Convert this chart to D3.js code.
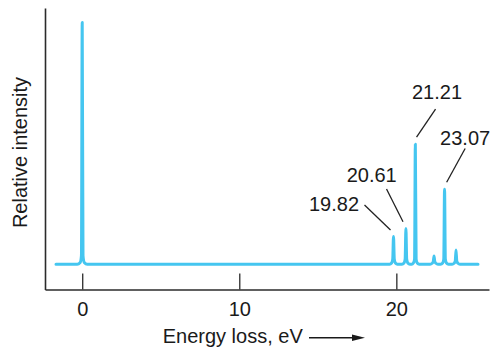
<!DOCTYPE html>
<html><head><meta charset="utf-8">
<script src="https://cdn.jsdelivr.net/npm/d3@7/dist/d3.min.js"></script>
<style>body{margin:0;background:#fff}svg{display:block;font-family:"Liberation Sans",Arial,sans-serif}</style>
</head><body>
<svg id="chart" width="491" height="348"></svg>
<script>
// ---- data ----
const traceEnergy = [
  -1.67, -0.32, -0.13, -0.05, 0, 0.05, 0.13, 0.32,
  19.57, 19.70, 19.77, 19.82, 19.87, 19.94, 20.07,
  20.36, 20.49, 20.56, 20.61, 20.66, 20.73, 20.86,
  20.98, 21.09, 21.16, 21.21, 21.26, 21.33, 21.46,
  22.15, 22.28, 22.35, 22.40, 22.45, 22.52, 22.65,
  22.82, 22.95, 23.02, 23.07, 23.12, 23.19, 23.32,
  23.55, 23.68, 23.75, 23.80, 23.85, 23.92, 24.05,
  25.2
];
const traceIntensity = [
  0, 0, 0.7, 3.5, 99.3, 3.5, 0.7, 0,
  0, 0.5, 2, 11.4, 2, 0.5, 0,
  0, 0.5, 2, 14.7, 2, 0.5, 0,
  0, 0.5, 2, 49.3, 2, 0.5, 0,
  0, 0.4, 1, 3.4, 1, 0.4, 0,
  0, 0.5, 2, 30.8, 2, 0.5, 0,
  0, 0.4, 1.2, 5.8, 1.2, 0.4, 0,
  0
];
const peakLabels = ["19.82", "20.61", "21.21", "23.07"];
const peakEnergies = [19.82, 20.61, 21.21, 23.07];
const peakHeights = [11.4, 14.7, 49.3, 30.8];
const xTicks = [0, 10, 20];
const xTitle = "Energy loss, eV";
const yTitle = "Relative intensity";

// ---- layout ----
const svg = d3.select("#chart");
const x = d3.scaleLinear().domain([-2.37, 25.9]).range([45, 489]);
const y = d3.scaleLinear().domain([-10.4, 105.3]).range([289.5, 8]);
const axisColor = "#2b2b2b";
const traceColor = "#45c6f0";

// x axis
const gx = svg.append("g").attr("transform", `translate(0,${y.range()[0]})`)
  .call(d3.axisBottom(x).tickValues(xTicks).tickFormat(d3.format("d"))
    .tickSizeInner(-16).tickSizeOuter(0).tickPadding(12));
gx.select(".domain").attr("stroke", axisColor).attr("stroke-width", 1.6);
gx.selectAll(".tick line").attr("stroke", axisColor).attr("stroke-width", 1.3);
gx.selectAll(".tick text").attr("font-size", 20).attr("fill", "#1a1a1a")
  .attr("font-family", "Liberation Sans, Arial, sans-serif");

// y axis (line only)
const gy = svg.append("g").attr("transform", `translate(${x.range()[0]},0)`)
  .call(d3.axisLeft(y).tickValues([]).tickSizeOuter(0));
gy.select(".domain").attr("stroke", axisColor).attr("stroke-width", 1.6);

// trace
const pts = traceEnergy.map((e, i) => [e, traceIntensity[i]]);
svg.append("path").datum(pts)
  .attr("fill", "none").attr("stroke", traceColor).attr("stroke-width", 3)
  .attr("stroke-linejoin", "round").attr("stroke-linecap", "round")
  .attr("d", d3.line().x(d => x(d[0])).y(d => y(d[1])).curve(d3.curveMonotoneX));

// annotations (pixel offsets from each labelled peak top)
const annot = [
  {tx: -59.5, ty: -25.8, l: [-29, -31.5, -3, -6.5]},
  {tx: -34.2, ty: -46.7, l: [-19.4, -39.4, -2.9, -6.7]},
  {tx: 21.7, ty: -45.2, l: [20.2, -35.2, 1.2, -7.2]},
  {tx: 20.6, ty: -44.3, l: [20.6, -40.8, 2.1, -7]}
];
peakLabels.forEach((lab, i) => {
  const px = x(peakEnergies[i]), py = y(peakHeights[i]);
  const a = annot[i];
  svg.append("line")
    .attr("x1", px + a.l[0]).attr("y1", py + a.l[1])
    .attr("x2", px + a.l[2]).attr("y2", py + a.l[3])
    .attr("stroke", "#222").attr("stroke-width", 1.3);
  svg.append("text").attr("x", px + a.tx).attr("y", py + a.ty)
    .attr("text-anchor", "middle").attr("font-size", 20).attr("fill", "#1a1a1a")
    .text(lab);
});

// axis titles
svg.append("text").attr("x", 162.7).attr("y", 343.3)
  .attr("font-size", 20).attr("fill", "#1a1a1a").text(xTitle);
svg.append("line").attr("x1", 309).attr("x2", 354).attr("y1", 337.7).attr("y2", 337.7)
  .attr("stroke", "#1a1a1a").attr("stroke-width", 1.4);
svg.append("path").attr("d", "M352,334.4L365,337.7L352,341Z").attr("fill", "#1a1a1a");

svg.append("text").attr("transform", "translate(26.7,152.5) rotate(-90)")
  .attr("text-anchor", "middle").attr("font-size", 20).attr("fill", "#1a1a1a").text(yTitle);
</script>
</body></html>
